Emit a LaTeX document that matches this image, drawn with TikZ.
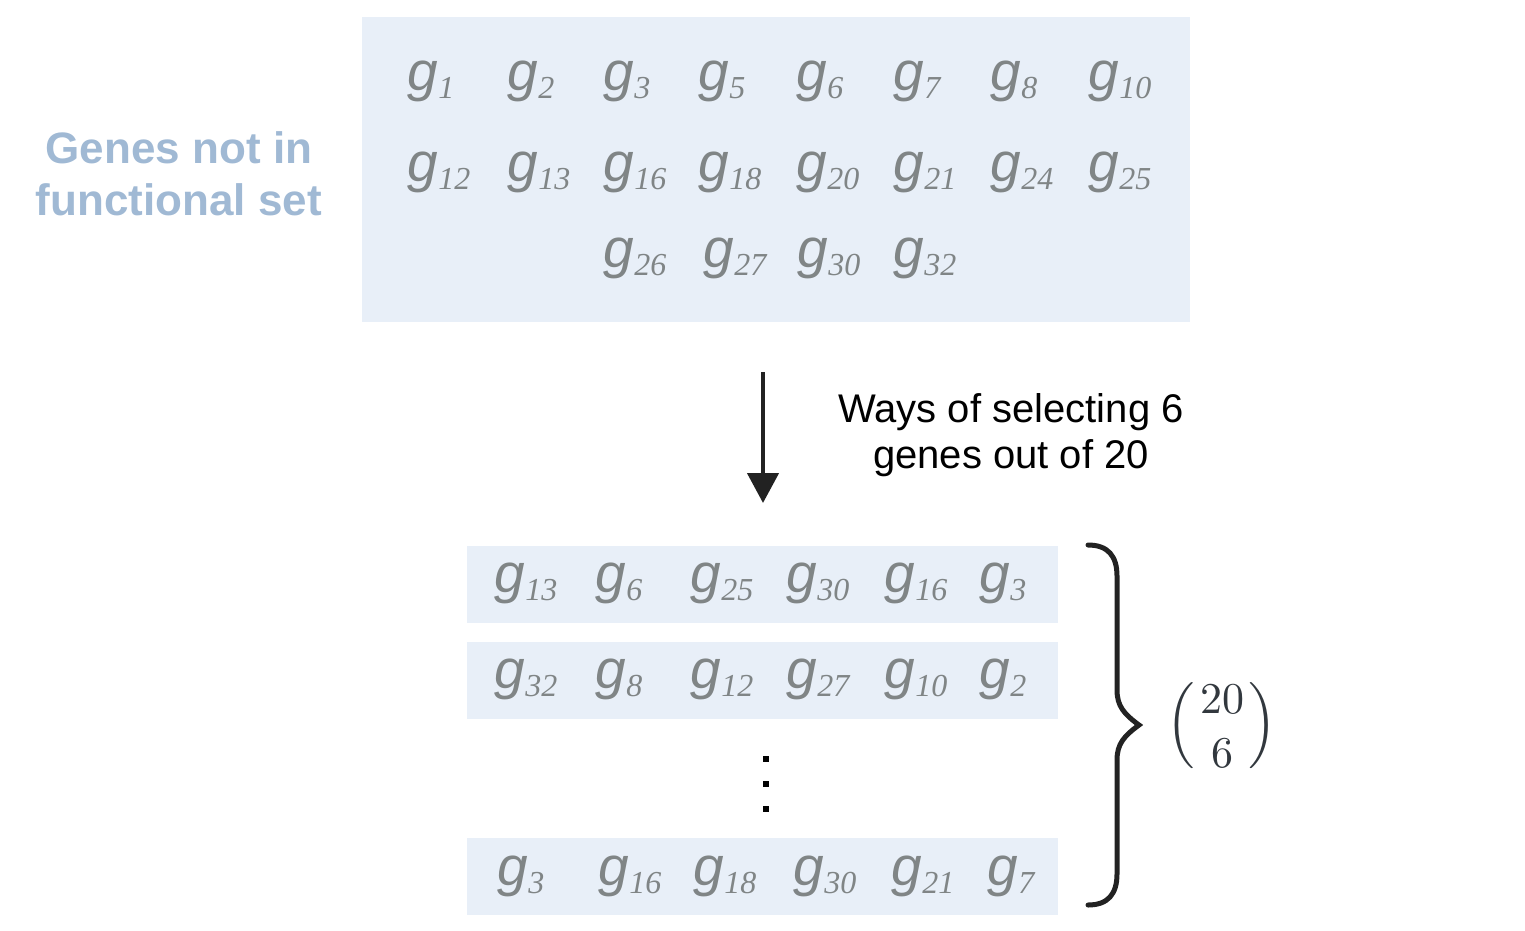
\documentclass[tikz,border=0pt]{standalone}
\usepackage{fontspec}
\usepackage{amsmath}
\usepackage{graphicx}
\setmainfont{Liberation Sans}
\newfontfamily\gfamily{Liberation Sans}
\newfontfamily\subfamily{Liberation Serif}
\usetikzlibrary{arrows.meta}
\definecolor{boxblue}{RGB}{232,239,248}
\definecolor{ggray}{RGB}{128,133,134}
\definecolor{lblblue}{RGB}{160,185,212}
\definecolor{darkline}{RGB}{34,34,34}
\definecolor{binomcol}{RGB}{50,56,62}
\newcommand{\genesym}[1]{{\gfamily\itshape\fontsize{55}{60}\selectfont g}\kern0.5pt\raisebox{-8pt}{\subfamily\itshape\fontsize{32}{36}\selectfont #1}}
\newcommand{\mybinom}{$\Bigl(\kern1pt\vcenter{\offinterlineskip\halign{\hfil##\hfil\cr \scalebox{0.92}{$20$}\cr\noalign{\kern5.4pt}\scalebox{0.92}{$6$}\cr}}\kern1pt\Bigr)$}
\tikzset{
  genebox/.style={fill=boxblue, draw=none},
  gene/.style={anchor=base west, inner sep=0pt, text=ggray},
  lbl/.style={align=center, inner sep=0pt},
}
\begin{document}
\begin{tikzpicture}[x=1pt,y=-1pt]
\useasboundingbox (0,0) rectangle (1525,930);
% top box
\fill[genebox] (362,17) rectangle (1190,322);
\foreach \n/\x in {1/407,2/507,3/603,5/698,6/796,7/893,8/990,10/1088}
  \node[gene] (ta\n) at (\x,90) {\genesym{\n}};
\foreach \n/\x in {12/407,13/507,16/603,18/698,20/796,21/893,24/990,25/1088}
  \node[gene] (tb\n) at (\x,181) {\genesym{\n}};
\foreach \n/\x in {26/603,27/703,30/797,32/893}
  \node[gene] (tc\n) at (\x,267) {\genesym{\n}};
% label
\node[lbl, text=lblblue, font=\bfseries\fontsize{44}{52}\selectfont] (label) at (179,174) {Genes not in\\functional set};
% arrow
\coordinate (arrS) at (763,372);
\coordinate (arrE) at (763,503);
\draw[darkline, line width=4.5pt, -{Triangle[length=30pt,width=31pt]}] (arrS) -- (arrE);
\node[lbl, font=\fontsize{40}{46}\selectfont] (ways) at (1011,435) {Ways of selecting 6\\genes out of 20};
% bottom boxes
\fill[genebox] (467,546) rectangle (1058,623);
\fill[genebox] (467,642) rectangle (1058,719);
\fill[genebox] (467,838) rectangle (1058,915);
\foreach \n/\x in {13/494,6/595,25/690,30/786,16/884,3/979}
  \node[gene] (ba\n) at (\x,592) {\genesym{\n}};
\foreach \n/\x in {32/494,8/595,12/690,27/786,10/884,2/979}
  \node[gene] (bb\n) at (\x,688) {\genesym{\n}};
\foreach \n/\x in {3/497,16/598,18/693,30/793,21/891,7/987}
  \node[gene] (bc\n) at (\x,885) {\genesym{\n}};
% dots
\foreach \y in {756,781,806}
  \fill[black] (763,\y) rectangle (769,\y+6);
% brace
\draw[darkline, line width=5pt, line cap=round]
  (1088,545) .. controls (1108,545) and (1117,556) .. (1117,576)
  -- (1117,690) .. controls (1117,706) and (1124,714) .. (1139,725)
  .. controls (1124,736) and (1117,744) .. (1117,760)
  -- (1117,874) .. controls (1117,894) and (1108,905) .. (1088,905);
\node[inner sep=0pt, text=binomcol] (binom) at (1222,726) {\scalebox{4.78}{\mybinom}};
\end{tikzpicture}
\end{document}
